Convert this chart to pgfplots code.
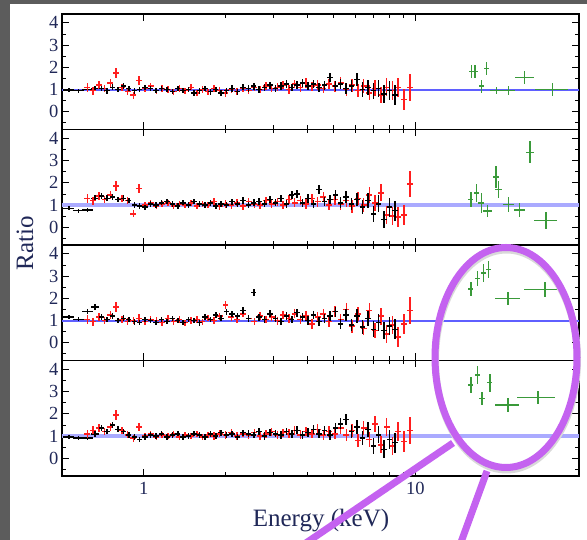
\documentclass[border=0pt]{standalone}
\usepackage{pgfplots}
\usepackage{pgfplotstable}
\usepackage{fontspec}
\setmainfont{Liberation Serif}
\pgfplotsset{compat=1.18}

\definecolor{slidebg}{RGB}{92,92,92}
\definecolor{ticktext}{RGB}{32,40,88}
\definecolor{datared}{RGB}{255,30,30}
\definecolor{datagreen}{RGB}{58,154,58}
\definecolor{unitblue}{RGB}{95,95,255}
\definecolor{unitlight}{RGB}{170,170,255}
\definecolor{markpurple}{RGB}{196,98,240}

% black instrument: bin centre, half width, y error, ratio for the four panels
\pgfplotstableread{
x ex ey y1 y2 y3 y4
0.700 0.016 0.13 1.05 1.40 1.15 1.35
0.733 0.017 0.13 0.95 1.30 1.05 1.20
0.768 0.018 0.13 1.10 1.35 1.20 1.50
0.804 0.018 0.13 1.00 1.25 1.00 1.30
0.842 0.019 0.13 1.15 1.30 1.10 1.20
0.881 0.020 0.13 1.05 1.20 1.05 1.05
0.923 0.021 0.13 0.95 1.00 0.95 0.95
0.966 0.022 0.12 1.00 0.95 0.90 0.85
1.012 0.023 0.12 1.10 0.90 1.05 0.95
1.059 0.024 0.12 1.05 1.05 1.00 1.05
1.109 0.026 0.12 0.95 1.00 0.90 1.00
1.161 0.027 0.12 1.05 1.10 1.05 1.10
1.216 0.028 0.12 1.00 1.15 0.95 0.95
1.274 0.029 0.12 0.90 1.05 1.10 1.05
1.334 0.031 0.12 1.05 0.95 1.00 1.10
1.396 0.032 0.12 0.95 1.10 0.90 0.95
1.462 0.034 0.12 1.00 1.00 1.05 1.00
1.531 0.035 0.12 0.85 1.15 1.00 1.10
1.603 0.037 0.13 0.95 1.05 0.90 1.05
1.679 0.039 0.13 1.05 1.00 1.15 0.95
1.758 0.040 0.13 0.90 1.10 1.05 1.10
1.841 0.042 0.13 1.00 0.95 1.25 1.00
1.927 0.044 0.14 0.85 1.05 1.10 1.15
2.018 0.046 0.14 0.95 1.00 1.40 1.05
2.113 0.049 0.14 1.05 1.15 1.30 1.10
2.213 0.051 0.14 0.90 1.05 1.20 0.95
2.317 0.053 0.14 1.10 1.20 1.45 1.15
2.426 0.056 0.15 1.05 1.00 1.10 1.10
2.541 0.058 0.15 1.15 1.10 2.25 1.05
2.660 0.061 0.15 1.00 1.15 1.15 1.20
2.786 0.064 0.16 1.10 1.05 1.05 1.00
2.917 0.067 0.16 1.20 1.25 1.30 1.15
3.054 0.070 0.16 1.05 1.10 1.10 1.10
3.198 0.074 0.17 1.15 1.30 0.95 1.05
3.349 0.077 0.17 1.25 1.05 1.20 1.20
3.507 0.081 0.17 1.10 1.45 1.05 1.10
3.672 0.084 0.18 1.20 1.50 1.35 1.25
3.845 0.088 0.18 1.30 1.10 1.15 1.05
4.026 0.093 0.19 1.15 1.30 1.00 1.15
4.216 0.097 0.19 1.25 1.05 1.25 1.30
4.414 0.102 0.20 1.10 1.70 0.95 1.10
4.622 0.106 0.20 1.20 1.15 1.10 1.25
4.840 0.111 0.21 1.55 1.25 1.20 1.05
5.068 0.117 0.22 1.15 1.45 1.40 1.35
5.307 0.122 0.24 1.25 1.10 0.85 1.55
5.557 0.128 0.26 1.05 1.35 1.25 1.75
5.819 0.134 0.28 1.15 1.05 0.80 1.20
6.093 0.140 0.30 1.45 1.25 1.20 1.40
6.380 0.147 0.32 1.00 0.90 0.70 0.90
6.681 0.154 0.34 1.10 1.20 1.10 1.30
6.995 0.161 0.36 0.95 0.60 0.60 0.55
7.325 0.168 0.38 1.05 1.05 0.90 1.05
7.670 0.176 0.40 0.80 0.35 0.55 0.40
8.031 0.185 0.42 0.95 0.90 0.75 0.85
8.406 0.193 0.45 0.75 0.75 0.60 0.70
}\blacktab

% black instrument, wide low-energy bins
\pgfplotstableread{
x ex ey y1 y2 y3 y4
0.530 0.024 0.09 0.98 0.85 1.15 0.95
0.575 0.026 0.09 0.95 0.75 1.05 0.90
0.620 0.028 0.10 1.00 0.78 1.40 0.90
0.662 0.020 0.13 1.05 1.30 1.60 1.10
}\blacklow

% red instrument
\pgfplotstableread{
x ex ey y1 y2 y3 y4
0.620 0.016 0.19 1.10 1.30 1.05 1.10
0.651 0.016 0.18 0.95 1.20 0.95 1.25
0.684 0.017 0.17 1.20 1.40 1.15 1.35
0.718 0.018 0.17 1.05 1.25 1.00 1.20
0.754 0.019 0.17 1.30 1.45 1.25 1.40
0.791 0.020 0.23 1.75 1.85 1.60 1.95
0.831 0.021 0.17 1.10 1.30 1.05 1.25
0.872 0.022 0.16 0.90 1.20 0.95 1.05
0.916 0.023 0.16 0.75 0.60 1.00 0.90
0.962 0.024 0.19 1.40 1.75 1.10 1.40
1.010 0.025 0.14 1.05 1.00 0.95 1.00
1.060 0.027 0.14 1.15 1.10 1.05 1.10
1.113 0.028 0.14 0.95 0.95 1.00 0.95
1.169 0.029 0.14 1.05 1.05 0.90 1.05
1.227 0.031 0.14 1.00 1.10 1.10 1.00
1.289 0.032 0.14 0.90 0.95 0.95 1.10
1.353 0.034 0.14 1.05 1.05 1.05 0.95
1.421 0.036 0.14 0.95 1.00 0.90 1.05
1.492 0.037 0.14 1.10 1.10 1.00 1.00
1.567 0.039 0.14 0.85 0.95 1.05 1.10
1.645 0.041 0.14 1.00 1.05 0.95 0.95
1.727 0.043 0.14 0.90 1.00 1.10 1.05
1.814 0.045 0.16 1.05 1.15 1.00 1.00
1.904 0.048 0.16 0.95 0.95 1.20 1.10
2.000 0.050 0.17 0.85 1.05 1.70 1.05
2.100 0.053 0.16 1.00 1.00 1.15 1.15
2.205 0.055 0.16 0.90 1.10 1.05 1.00
2.315 0.058 0.16 1.05 0.95 1.30 1.10
2.431 0.061 0.17 0.95 1.15 1.10 1.05
2.552 0.064 0.17 1.10 1.05 0.95 1.15
2.680 0.067 0.17 1.00 1.00 1.20 1.00
2.814 0.070 0.17 1.15 1.20 1.05 1.10
2.955 0.074 0.18 1.05 1.05 1.15 1.20
3.102 0.078 0.18 1.10 1.15 1.00 1.05
3.257 0.081 0.18 1.20 1.00 1.25 1.15
3.420 0.086 0.20 1.00 1.25 1.10 1.10
3.591 0.090 0.20 1.25 1.10 1.30 1.25
3.771 0.094 0.20 1.10 1.20 1.05 1.05
3.959 0.099 0.21 1.30 1.05 1.20 1.20
4.157 0.104 0.21 1.15 1.30 0.85 1.10
4.365 0.109 0.22 1.20 1.15 1.15 1.30
4.583 0.115 0.22 1.05 1.35 1.30 1.05
4.813 0.120 0.23 1.25 1.00 0.95 1.20
5.053 0.126 0.25 1.15 1.25 1.40 1.10
5.306 0.133 0.26 1.30 1.05 1.05 1.35
5.571 0.139 0.27 1.00 1.20 1.50 1.05
5.850 0.146 0.29 1.20 0.95 0.75 1.25
6.142 0.154 0.30 0.95 1.30 1.30 0.80
6.449 0.161 0.32 1.15 1.00 0.65 1.35
6.772 0.169 0.34 0.85 1.45 1.45 0.85
7.110 0.178 0.36 1.05 1.10 0.55 1.55
7.466 0.187 0.38 0.75 1.55 1.20 0.60
7.839 0.196 0.40 1.10 0.55 0.40 1.40
8.231 0.206 0.42 0.95 0.50 0.80 0.55
8.643 0.216 0.44 1.10 0.45 0.25 1.20
9.075 0.227 0.46 0.55 0.55 0.85 0.75
9.529 0.238 0.60 1.10 1.95 1.45 1.25
}\redtab

\pgfplotsset{
  panel/.style={
    scale only axis, width=517pt, height=115.5pt,
    anchor=north west,
    xmin=0.5, xmax=40,
    ymin=-0.8, ymax=4.4,
    ytick={0,1,2,3,4}, minor ytick={-0.5,0.5,1.5,2.5,3.5},
    xtick={1,10}, xticklabels={},
    axis line style={line width=1.3pt},
    tick style={line width=0.8pt, black},
    major tick length=7pt, minor tick length=4pt,
    tick label style={font=\fontsize{18.5}{20}\selectfont, text=ticktext},
  },
  binned/.style={
    draw=none, mark=none,
    error bars/x dir=both, error bars/x explicit,
    error bars/y dir=both, error bars/y explicit,
    error bars/error mark=none,
    error bars/error bar style={line width=1.5pt, draw=#1, solid},
  },
}
\pgfkeys{/pgf/number format/assume math mode=true}

\begin{document}
\begin{tikzpicture}
\useasboundingbox (0,0) rectangle (587pt,540pt);
\clip (0,0) rectangle (587pt,540pt);
\fill[slidebg] (0,0) rectangle (587pt,540pt);
\fill[white] (10pt,0) rectangle (587pt,536pt);

% panel 1
\begin{semilogxaxis}[panel, at={(62pt,526pt)}]
\addplot[draw=unitblue, line width=2pt] coordinates {(0.5,1) (40,1)};
\addplot[binned=black] table[x=x, y=y1, x error=ex, y error=ey] {\blacklow};
\addplot[binned=datared] table[x=x, y=y1, x error=ex, y error=ey] {\redtab};
\addplot[binned=black] table[x=x, y=y1, x error=ex, y error=ey] {\blacktab};
\addplot[binned=datagreen] coordinates {
  (16.1,1.80) +- (0.35,0.30)
  (16.6,1.80) +- (0.35,0.30)
  (17.5,1.15) +- (0.40,0.30)
  (18.3,1.95) +- (0.40,0.30)
  (19.9,0.95) +- (1.10,0.15)
  (22.0,0.95) +- (1.20,0.20)
  (25.2,1.53) +- (2.00,0.30)
  (32.0,1.00) +- (4.50,0.30)
};
\end{semilogxaxis}

% panel 2
\begin{semilogxaxis}[panel, at={(62pt,410.5pt)}]
\addplot[draw=unitlight, line width=3.5pt] coordinates {(0.5,1) (40,1)};
\addplot[binned=black] table[x=x, y=y2, x error=ex, y error=ey] {\blacklow};
\addplot[binned=datared] table[x=x, y=y2, x error=ex, y error=ey] {\redtab};
\addplot[binned=black] table[x=x, y=y2, x error=ex, y error=ey] {\blacktab};
\addplot[binned=datagreen] coordinates {
  (16.0,1.25) +- (0.35,0.35)
  (16.8,1.55) +- (0.35,0.40)
  (17.5,1.10) +- (0.45,0.45)
  (18.4,0.73) +- (0.70,0.25)
  (19.8,2.25) +- (0.50,0.50)
  (20.2,1.70) +- (0.60,0.40)
  (22.0,1.03) +- (1.00,0.35)
  (24.2,0.78) +- (1.20,0.30)
  (26.4,3.37) +- (0.80,0.50)
  (30.2,0.30) +- (2.90,0.40)
};
\end{semilogxaxis}

% panel 3
\begin{semilogxaxis}[panel, at={(62pt,295pt)}]
\addplot[draw=unitblue, line width=2pt] coordinates {(0.5,1) (40,1)};
\addplot[binned=black] table[x=x, y=y3, x error=ex, y error=ey] {\blacklow};
\addplot[binned=datared] table[x=x, y=y3, x error=ex, y error=ey] {\redtab};
\addplot[binned=black] table[x=x, y=y3, x error=ex, y error=ey] {\blacktab};
\addplot[binned=datagreen] coordinates {
  (16.0,2.42) +- (0.35,0.30)
  (16.9,2.90) +- (0.35,0.35)
  (17.8,3.15) +- (0.35,0.40)
  (18.6,3.30) +- (0.40,0.40)
  (21.9,2.00) +- (2.30,0.30)
  (30.0,2.40) +- (5.00,0.35)
};
\end{semilogxaxis}

% panel 4
\begin{semilogxaxis}[panel, at={(62pt,179.5pt)}, xticklabels={1,10},
  xticklabel style={yshift=-3pt}]
\addplot[draw=unitlight, line width=3.5pt] coordinates {(0.5,1) (40,1)};
\addplot[binned=black] table[x=x, y=y4, x error=ex, y error=ey] {\blacklow};
\addplot[binned=datared] table[x=x, y=y4, x error=ex, y error=ey] {\redtab};
\addplot[binned=black] table[x=x, y=y4, x error=ex, y error=ey] {\blacktab};
\addplot[binned=datagreen] coordinates {
  (16.0,3.30) +- (0.35,0.35)
  (16.9,3.75) +- (0.35,0.40)
  (17.6,2.70) +- (0.45,0.30)
  (18.8,3.40) +- (0.40,0.40)
  (21.9,2.40) +- (2.20,0.30)
  (28.2,2.73) +- (4.50,0.30)
};
\end{semilogxaxis}

% axis titles
\node[text=ticktext, font=\fontsize{25}{28}\selectfont] at (321pt,19pt) {Energy (keV)};
\node[text=ticktext, rotate=90, font=\fontsize{25}{28}\selectfont] at (25pt,297pt) {Ratio};

% highlight of the hard-band excess
\draw[line width=7pt, black!15] (506.5pt,180pt) ellipse [x radius=71pt, y radius=110pt];
\draw[line width=7pt, markpurple] (506pt,182.5pt) ellipse [x radius=71pt, y radius=110pt];
\draw[line width=7pt, markpurple] (453pt,97pt) -- (303pt,-5pt);
\draw[line width=7pt, markpurple] (487pt,69pt) -- (460pt,-5pt);
\end{tikzpicture}
\end{document}
